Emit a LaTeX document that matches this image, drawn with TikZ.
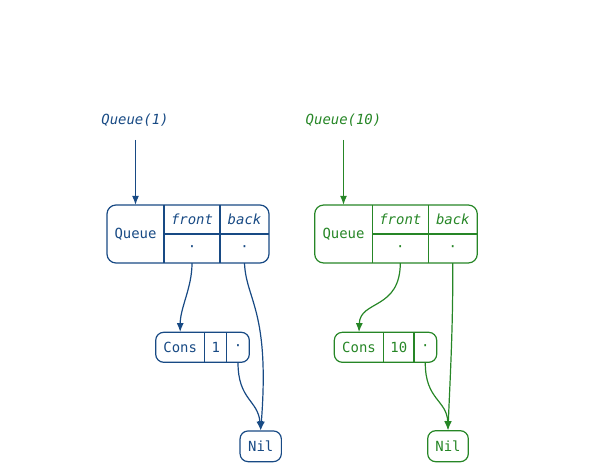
\documentclass[tikz,border=0pt]{standalone}
\usepackage{fontspec}
\setmonofont{DejaVu Sans Mono}
\usetikzlibrary{arrows.meta}
\definecolor{qblue}{RGB}{24,74,132}
\definecolor{qgreen}{RGB}{38,134,38}
\tikzset{
  cell/.style={inner sep=0pt, font=\ttfamily\fontsize{14}{16}\selectfont},
  icell/.style={cell, font=\ttfamily\itshape\fontsize{14}{16}\selectfont},
  frame/.style={line width=1.2bp, rounded corners=9bp},
  sep/.style={line width=1.2bp},
  arr/.style={line width=1.2bp, -{Latex[length=9bp,width=7bp]}},
}
\begin{document}
\begin{tikzpicture}[x=1bp,y=-1bp]
\useasboundingbox (0,0) rectangle (609,471);
% ---------- blue ----------
\begin{scope}[color=qblue]
\node[icell] (l1) at (135,120) {Queue(1)};
\coordinate (s1) at (135.5,140);
\draw[frame] (107,205) rectangle (269,263);
\draw[sep] (164,205) -- (164,263) (220,205) -- (220,263) (164,234) -- (269,234);
\node[cell, minimum width=57bp, minimum height=58bp] (bq) at (135.5,234) {Queue};
\node[icell, minimum width=56bp, minimum height=29bp] (bfront) at (192,219.5) {front};
\node[icell, minimum width=49bp, minimum height=29bp] (bback) at (244.5,219.5) {back};
\node[cell, minimum width=56bp, minimum height=29bp] (bfd) at (192,248.5) {·};
\node[cell, minimum width=49bp, minimum height=29bp] (bbd) at (244.5,248.5) {·};
\draw[frame, rounded corners=8bp] (155.7,332.3) rectangle (249.3,362.3);
\draw[sep] (204.7,332.3) -- (204.7,362.3) (226.7,332.3) -- (226.7,362.3);
\node[cell, minimum width=49bp, minimum height=30bp] (bcons) at (180.2,347.3) {Cons};
\node[cell, minimum width=22bp, minimum height=30bp] (bone) at (215.7,347.3) {1};
\node[cell, minimum width=22.6bp, minimum height=30bp] (bcd) at (238,347.3) {·};
\node[cell, draw, line width=1.2bp, rounded corners=8bp, minimum width=41.3bp, minimum height=30.7bp] (bnil) at (260.7,446.3) {Nil};
\draw[arr] (s1) -- (bq.north);
\draw[arr] (bfd.south) to[out=-90,in=90,looseness=0.9] (bcons.north);
\draw[arr] (bbd.south) .. controls (246,300) and (270,310) .. (bnil.north);
\draw[arr] (bcd.south) .. controls (238,400) and (258,400) .. (bnil.north);
\end{scope}
% ---------- green ----------
\begin{scope}[color=qgreen]
\node[icell] (l2) at (343.5,120) {Queue(10)};
\coordinate (s2) at (343.5,140);
\draw[frame] (314.7,205) rectangle (477.3,263);
\draw[sep] (372.3,205) -- (372.3,263) (428.3,205) -- (428.3,263) (372.3,234) -- (477.3,234);
\node[cell, minimum width=57.6bp, minimum height=58bp] (gq) at (343.5,234) {Queue};
\node[icell, minimum width=56bp, minimum height=29bp] (gfront) at (400.3,219.5) {front};
\node[icell, minimum width=49bp, minimum height=29bp] (gback) at (452.8,219.5) {back};
\node[cell, minimum width=56bp, minimum height=29bp] (gfd) at (400.3,248.5) {·};
\node[cell, minimum width=49bp, minimum height=29bp] (gbd) at (452.8,248.5) {·};
\draw[frame, rounded corners=8bp] (334.3,332.3) rectangle (436.7,362.3);
\draw[sep] (383.7,332.3) -- (383.7,362.3) (414,332.3) -- (414,362.3);
\node[cell, minimum width=49.4bp, minimum height=30bp] (gcons) at (359,347.3) {Cons};
\node[cell, minimum width=30.3bp, minimum height=30bp] (gten) at (398.8,347.3) {10};
\node[cell, minimum width=22.7bp, minimum height=30bp] (gcd) at (425.3,347.3) {·};
\node[cell, draw, line width=1.2bp, rounded corners=8bp, minimum width=40.6bp, minimum height=31bp] (gnil) at (448,446.2) {Nil};
\draw[arr] (s2) -- (gq.north);
\draw[arr] (gfd.south) .. controls (400,310) and (360,300) .. (gcons.north);
\draw[arr] (gbd.south) .. controls (453,330) and (450,380) .. (gnil.north);
\draw[arr] (gcd.south) .. controls (425,400) and (447,400) .. (gnil.north);
\end{scope}
\end{tikzpicture}
\end{document}
